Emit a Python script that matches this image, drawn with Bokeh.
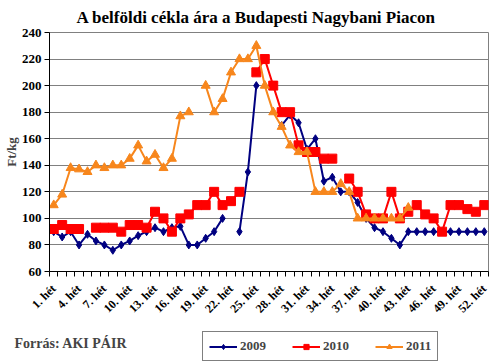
import math
from bokeh.plotting import figure
from bokeh.layouts import column
from bokeh.models import FixedTicker, Label, Legend, LegendItem, Range1d, ColumnDataSource, Title
from bokeh.embed import file_html
from bokeh.resources import INLINE

nan = float("nan")

weeks = list(range(1, 53))
tick_weeks = [1, 4, 7, 10, 13, 16, 19, 22, 25, 28, 31, 34, 37, 40, 43, 46, 49, 52]
tick_labels = ["1. hét", "4. hét", "7. hét", "10. hét", "13. hét", "16. hét", "19. hét",
               "22. hét", "25. hét", "28. hét", "31. hét", "34. hét", "37. hét", "40. hét",
               "43. hét", "46. hét", "49. hét", "52. hét"]
y_ticks = [60, 80, 100, 120, 140, 160, 180, 200, 220, 240]

y2009 = [90, 86, 90, 80, 88, 83, 80, 76, 80, 83, 87, 90, 93, 90, 93, 94, 80, 80, 85, 90,
         100, nan, 90, 135, 200, nan, nan, 170, 178, 172, 152, 160, 128, 131, 120, 120, 112, 100, 93, 90,
         85, 80, 90, 90, 90, 90, 90, 90, 90, 90, 90, 90]
y2010 = [92, 95, 92, 92, nan, 93, 93, 93, 90, 95, 95, 93, 105, 100, 90, 100, 103, 110, 110, 120,
         110, 113, 120, nan, 210, 220, 200, 180, 180, 155, 150, 150, 145, 145, nan, 130, 120, 103, 100, 100,
         120, 100, 105, 110, 103, 100, 90, 110, 110, 107, 105, 110]
y2011 = [110, 118, 138, 137, 135, 140, 138, 140, 140, 145, 155, 143, 148, 138, 145, 177, 180, nan, 200, 180,
         190, 210, 220, 220, 230, 200, 180, 169, 155, 150, 150, 120, 120, 120, 126, 120, 100, 100, 100, 100,
         100, 100, 108, nan, nan, nan, nan, nan, nan, nan, nan, nan]

series_names = ["2009", "2010", "2011"]
series_values = [y2009, y2010, y2011]
colors = ["#000080", "#FF0000", "#F7861C"]
markers = ["diamond", "square", "triangle"]
marker_sizes = [8, 9, 9]

title_text = "A belföldi cékla ára a Budapesti Nagybani Piacon"
source_text = "Forrás: AKI PÁIR"

FONT = "Liberation Serif"

p = figure(frame_width=439, frame_height=239, output_backend="svg", toolbar_location=None,
           x_range=Range1d(0.5, 52.5), y_range=Range1d(60, 240),
           min_border_left=43, min_border_right=10, min_border_top=31, min_border_bottom=40)
p.frame_align = False

p.title = Title(text=title_text, text_font=FONT, text_font_style="bold", text_font_size="17px",
                align="left", offset=27, standoff=11, text_color="black")

p.background_fill_color = "white"
p.border_fill_color = "white"
p.outline_line_color = "#808080"
p.outline_line_width = 1

p.xgrid.visible = False
p.ygrid.grid_line_color = "#808080"
p.ygrid.grid_line_width = 1
p.yaxis.ticker = FixedTicker(ticks=y_ticks)
p.xaxis.ticker = FixedTicker(ticks=tick_weeks, minor_ticks=[w + 0.5 for w in [0] + weeks])
p.xaxis.major_label_overrides = {w: lab for w, lab in zip(tick_weeks, tick_labels)}
p.xaxis.major_label_orientation = math.pi / 4
p.xaxis.major_tick_line_color = None
p.xaxis.minor_tick_line_color = "black"
p.xaxis.minor_tick_out = 5
p.xaxis.minor_tick_in = 0
p.xaxis.major_label_standoff = 9

for ax in (p.xaxis, p.yaxis):
    ax.axis_line_color = "black"
    ax.axis_line_width = 1
    ax.major_label_text_font = FONT
    ax.major_label_text_font_style = "bold"
    ax.major_label_text_color = "black"

p.xaxis.major_label_text_font_size = "12px"
p.yaxis.major_label_text_font_size = "13px"
p.yaxis.major_tick_out = 5
p.yaxis.major_tick_in = 0
p.yaxis.minor_tick_line_color = None
p.yaxis.major_label_standoff = 3
p.yaxis.axis_label = "Ft/kg"
p.yaxis.axis_label_text_font = FONT
p.yaxis.axis_label_text_font_style = "bold"
p.yaxis.axis_label_text_font_size = "13px"
p.yaxis.axis_label_standoff = 0

# footer figure holding the source note and the legend
p2 = figure(width=492, height=41, output_backend="svg", toolbar_location=None,
            x_range=Range1d(0, 1), y_range=Range1d(0, 1),
            x_axis_location=None, y_axis_location=None,
            min_border=0, min_border_left=0, min_border_right=0, min_border_top=0, min_border_bottom=0)
p2.frame_align = False
p2.grid.visible = False
p2.outline_line_color = None
p2.background_fill_color = "white"
p2.border_fill_color = "white"

items = []
for name, vals, col, mk, ms in zip(series_names, series_values, colors, markers, marker_sizes):
    src = ColumnDataSource(data=dict(x=weeks, y=vals))
    p.line("x", "y", source=src, line_color=col, line_width=2)
    p.scatter("x", "y", source=src, marker=mk, size=ms, fill_color=col, line_color=col)
    # same series in the footer (outside its view range) only to feed the legend glyphs
    r1 = p2.line("x", "y", source=src, line_color=col, line_width=2)
    r2 = p2.scatter("x", "y", source=src, marker=mk, size=ms, fill_color=col, line_color=col)
    items.append(LegendItem(label=name, renderers=[r1, r2]))

legend = Legend(items=items, orientation="horizontal", location=(202, 3),
                label_text_font=FONT, label_text_font_style="bold", label_text_font_size="13px",
                glyph_width=28, glyph_height=13, label_standoff=3, spacing=26, padding=6, margin=0,
                border_line_color="black", border_line_width=1, background_fill_alpha=1)
p2.add_layout(legend, "center")

source_lbl = Label(x=14, y=21, x_units="screen", y_units="screen", text=source_text,
                   text_font=FONT, text_font_style="bold", text_font_size="14px",
                   text_align="left", text_baseline="middle")
p2.add_layout(source_lbl)

layout = column(p, p2, spacing=0)
open("out.html", "w").write(file_html(layout, INLINE))
